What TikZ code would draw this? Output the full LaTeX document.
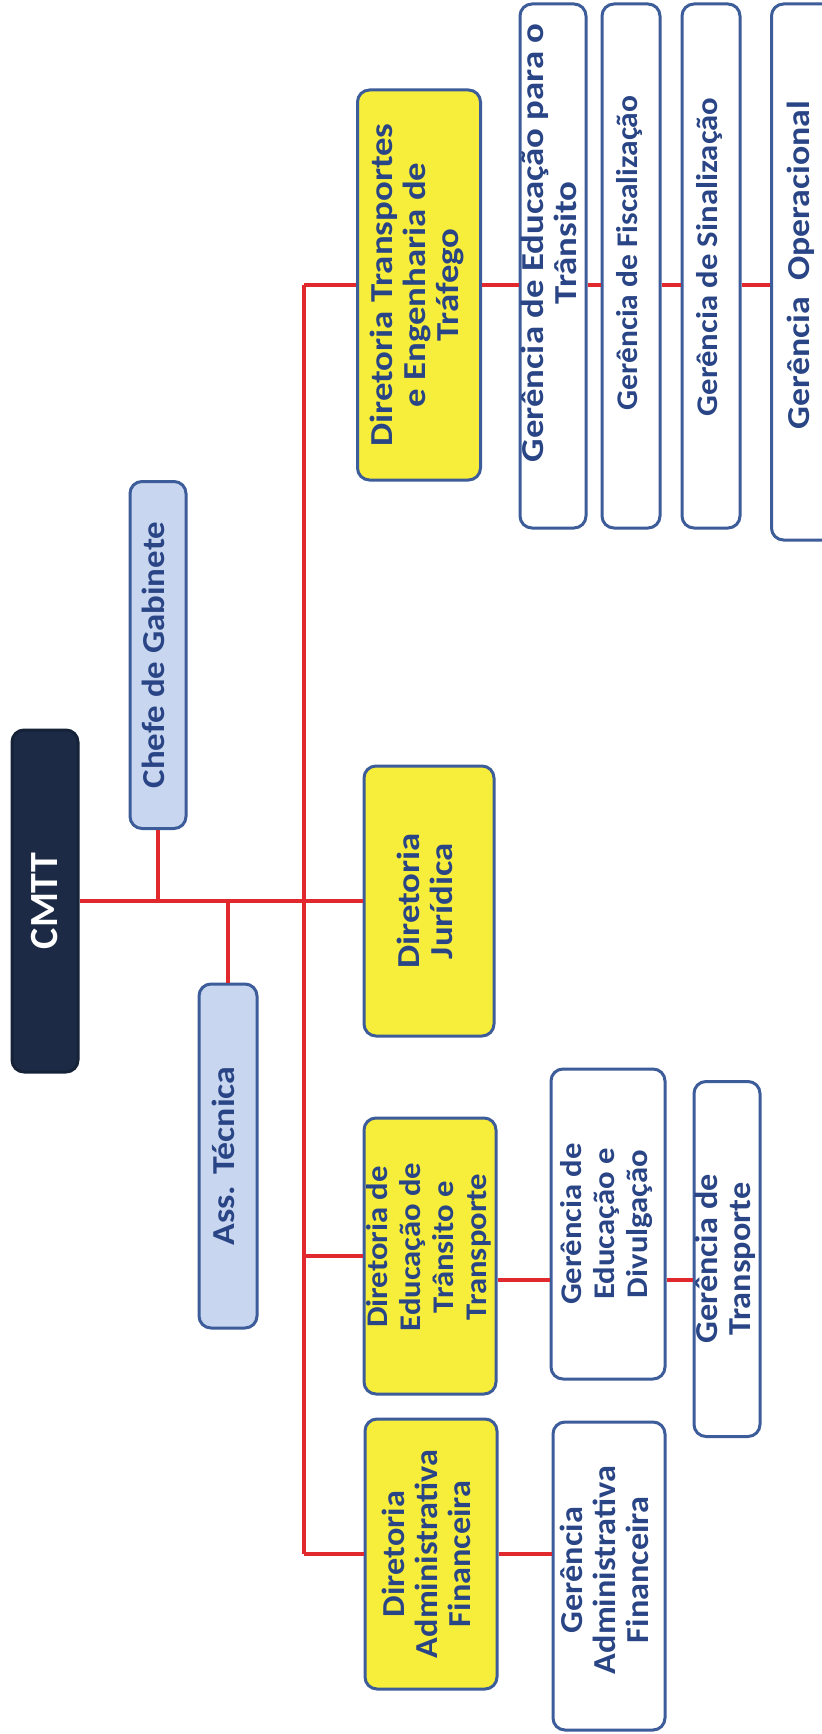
\documentclass[tikz,border=0pt]{standalone}
\usepackage{fontspec}
\setmainfont{Carlito}
\usepackage{graphicx}
\definecolor{bordc}{HTML}{3D5C9A}
\definecolor{txtc}{HTML}{2A4585}
\definecolor{navy}{HTML}{1C2A45}
\definecolor{lblue}{HTML}{C9D6F0}
\definecolor{ylw}{HTML}{F7EE3C}
\definecolor{redc}{HTML}{E0282D}
% \vt[pad]{stretch}{lines}
\newcommand{\vt}[3][0pt]{\rotatebox{90}{\hspace*{#1}\scalebox{#2}[1]{\begin{tabular}{@{}c@{}}#3\end{tabular}}}}
\tikzset{
  sz/.style 2 args={minimum width={#1*0.5pt}, minimum height={#2*0.5pt}},
  box/.style={draw=bordc, line width=1.5pt, rounded corners=6pt, inner sep=0pt,
    text=txtc, font=\fontsize{16}{16.5}\selectfont\bfseries},
  small/.style={font=\fontsize{15}{16.5}\selectfont\bfseries},
  boss/.style={box, draw=navy!80!black, fill=navy, text=white, font=\fontsize{20}{22}\selectfont\bfseries},
  assist/.style={box, fill=lblue},
  dir/.style={box, fill=ylw},
  ger/.style={box, fill=white},
  conn/.style={draw=redc, line width=1.6pt}
}
\begin{document}
\begin{tikzpicture}[x=0.5pt,y=-0.5pt]
\useasboundingbox (0,0) rectangle (822,1734);
\fill[white] (0,0) rectangle (822,1734);

% nodes
\node[boss, sz={66}{342}] (cmtt) at (45,901) {\rotatebox{90}{CMTT}};
\node[assist, sz={56}{347}] (chefe) at (158,655) {\vt{1.09}{Chefe de Gabinete}};
\node[assist, sz={58}{344}] (ass) at (228,1156) {\vt{1.12}{Ass. Técnica}};

\node[dir, sz={123}{390}] (dtrans) at (419,285) {\vt{1.15}{Diretoria Transportes\\e Engenharia de\\Tráfego}};
\node[dir, sz={130}{270}] (djur) at (429,901) {\vt{1.15}{Diretoria\\Jurídica}};
\node[dir, small, sz={132}{276}] (dedu) at (430,1256) {\vt[9pt]{1.09}{Diretoria de\\Educação de\\Trânsito e\\Transporte}};
\node[dir, sz={132}{270}] (dadm) at (431,1554) {\vt{1.07}{Diretoria\\Administrativa\\Financeira}};

\node[ger, sz={112}{308}] (gadm) at (609,1576) {\vt[6pt]{1.07}{Gerência\\Administrativa\\Financeira}};
\node[ger, small, sz={114}{310}] (ged) at (608,1224) {\vt{1.09}{Gerência de\\Educação e\\Divulgação}};
\node[ger, sz={58}{355}] (gtr) at (727,1259) {\vt{1.07}{Gerência de\\Transporte}};

\node[ger, sz={57}{524}] (g1) at (553,266) {\vt[23pt]{1.15}{Gerência de Educação para o\\Trânsito}};
\node[ger, small, sz={58}{524}] (g2) at (631,266) {\vt[13pt]{1.05}{Gerência de Fiscalização}};
\node[ger, small, sz={58}{524}] (g3) at (711,266) {\vt[9pt]{1.09}{Gerência de Sinalização}};
\node[ger, sz={63}{536}] (g4) at (803,272) {\vt[7pt]{1.12}{Gerência\ \ Operacional}};

% junctions
\coordinate (spT) at (304,285);
\coordinate (spB) at (304,1554);
\coordinate (eR) at ([yshift=-12pt]dedu.east);

% connectors
\draw[conn] (cmtt.east) -- (djur.west);
\draw[conn] (chefe.south) -- (chefe.south |- cmtt.east);
\draw[conn] (ass.north) -- (ass.north |- cmtt.east);
\draw[conn] (spT) -- (spB);
\draw[conn] (spT) -- (dtrans.west);
\draw[conn] (spT |- dedu.west) -- (dedu.west);
\draw[conn] (spB) -- (dadm.west);
\draw[conn] (dadm.east) -- (gadm.west |- dadm.east);
\draw[conn] (eR) -- (ged.west |- eR);
\draw[conn] (ged.east |- eR) -- (gtr.west |- eR);
\draw[conn] (dtrans.east) -- (g1.west |- dtrans.east);
\draw[conn] (g1.east |- dtrans.east) -- (g2.west |- dtrans.east);
\draw[conn] (g2.east |- dtrans.east) -- (g3.west |- dtrans.east);
\draw[conn] (g3.east |- dtrans.east) -- (g4.west |- dtrans.east);
\end{tikzpicture}
\end{document}
